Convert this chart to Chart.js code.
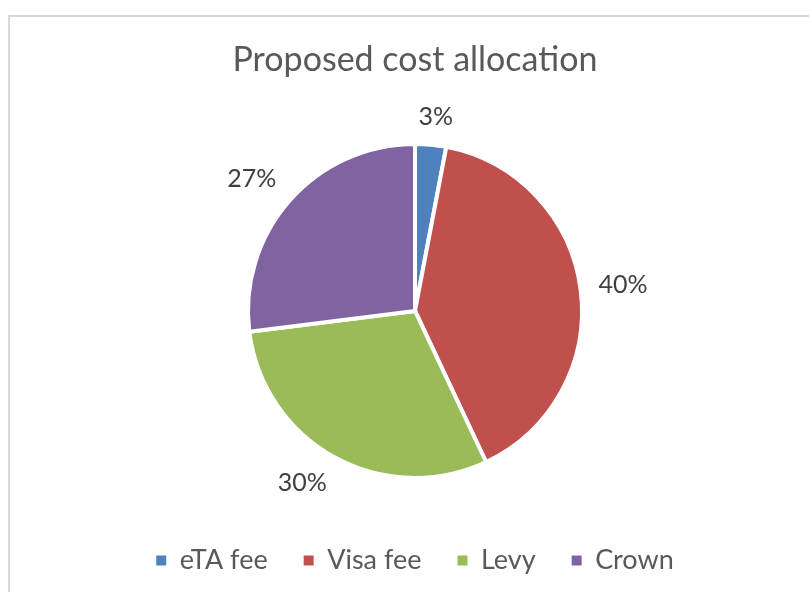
<!DOCTYPE html>
<html>
<head>
<meta charset="utf-8">
<script src="https://cdn.jsdelivr.net/npm/chart.js@4"></script>
<style>
  body { margin: 0; background: #fff; }
  #wrap { position: relative; width: 809px; height: 592px; overflow: hidden; }
  #frame { position: absolute; left: 8px; top: 15px; width: 900px; height: 700px; border: 2px solid #d9d9d9; }
  #c { position: absolute; left: 0; top: 0; }
</style>
</head>
<body>
<div id="wrap">
  <div id="frame"></div>
  <canvas id="c" width="809" height="592"></canvas>
</div>
<script>
// chart data
const categories = ['eTA fee', 'Visa fee', 'Levy', 'Crown'];
const shares = [3, 40, 30, 27];
const sliceColors = ['#4F81BD', '#C0504D', '#9BBB59', '#8064A2'];

function clamp(v) { return Math.max(-1, Math.min(1, v)); }

// percent labels outside each slice, pushed off the pie like Excel's best fit
const outsideLabels = {
  id: 'outsideLabels',
  afterDatasetsDraw(chart) {
    let ctx = chart.ctx;
    let meta = chart.getDatasetMeta(0);
    let total = shares.reduce((a, b) => a + b, 0);
    let fontSize = 25;
    ctx.save();
    ctx.font = fontSize + 'px Lato';
    ctx.fillStyle = '#404040';
    ctx.textAlign = 'center';
    ctx.textBaseline = 'middle';
    for (let i = 0; i < meta.data.length; i++) {
      let arc = meta.data[i];
      let p = arc.getProps(['x', 'y', 'startAngle', 'endAngle', 'outerRadius'], true);
      let mid = (p.startAngle + p.endAngle) / 2;
      let dx = Math.cos(mid), dy = Math.sin(mid);
      let r = p.outerRadius + 18;
      let pct = Math.round(shares[i] / total * 100) + '%';
      let w = ctx.measureText(pct).width;
      let h = fontSize * 0.8;
      let x = p.x + dx * r + clamp(dx * 2) * w / 2;
      let y = p.y + dy * r + clamp(dy * 2) * h / 2;
      ctx.fillText(pct, x, y);
    }
    ctx.restore();
  }
};

let ctx = document.getElementById('c').getContext('2d');
let chart = new Chart(ctx, {
  type: 'pie',
  data: {
    labels: categories,
    datasets: [{
      data: shares,
      backgroundColor: sliceColors,
      borderColor: '#ffffff',
      borderWidth: 4,
      radius: 167
    }]
  },
  options: {
    responsive: false,
    animation: false,
    layout: { padding: { left: 21, right: 0, top: 0, bottom: 8 } },
    plugins: {
      title: {
        display: true,
        text: 'Proposed cost allocation',
        color: '#595959',
        font: { family: 'Lato', size: 34, weight: 'normal' },
        padding: { top: 40, bottom: 30 }
      },
      legend: {
        position: 'bottom',
        labels: {
          color: '#595959',
          font: { family: 'Lato', size: 27 },
          boxWidth: 10,
          boxHeight: 10,
          padding: 36,
          // plain filled squares, without the white slice border
          generateLabels(chart) {
            let items = Chart.controllers.pie.overrides.plugins.legend.labels.generateLabels(chart);
            items.forEach(item => {
              item.lineWidth = 0;
              item.strokeStyle = item.fillStyle;
            });
            return items;
          }
        }
      },
      tooltip: { enabled: false }
    }
  },
  plugins: [outsideLabels]
});
</script>
</body>
</html>
